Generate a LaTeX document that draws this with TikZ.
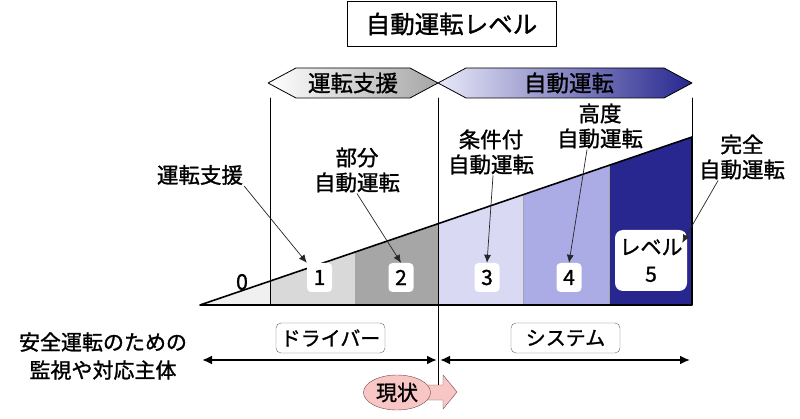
\documentclass[tikz,border=0pt]{standalone}
\usepackage{fontspec}
\setmainfont{Noto Sans CJK JP}[FakeBold=1.2]
\usetikzlibrary{arrows.meta,calc,positioning,shapes.geometric}
\definecolor{lvlGrayA}{HTML}{F0F0F0}
\definecolor{lvlGrayB}{HTML}{D9D9D9}
\definecolor{lvlGrayC}{HTML}{A6A6A6}
\definecolor{lvlBlueA}{HTML}{D9D9F4}
\definecolor{lvlBlueB}{HTML}{ABABE6}
\definecolor{lvlBlueC}{HTML}{27278F}
\definecolor{lvlPink}{HTML}{F9C6C6}
\definecolor{lvlRim}{HTML}{6F4A4A}

\begin{document}
\begin{tikzpicture}[x=1pt,y=-1pt,>=Latex,line cap=round,line join=round]
\useasboundingbox[fill=white] (0,0) rectangle (800,419);
\tikzset{lbl/.style={font=\fontsize{21.5}{25}\selectfont,align=center,inner sep=1pt},numbox/.style={fill=white,rounded corners=4pt,minimum width=25pt,minimum height=29pt,inner sep=0pt,font=\fontsize{21}{24}\selectfont},callout/.style={-{Latex[length=8pt,width=7pt]},draw=black!85,line width=0.7pt},tagbox/.style={draw=black!60,rounded corners=5pt,minimum width=109pt,minimum height=30pt,inner sep=0pt,font=\fontsize{20}{24}\selectfont},respline/.style={{Latex[length=10pt,width=9pt]}-{Latex[length=10pt,width=9pt]},line width=2pt},banner/.style={draw=black,line width=0.8pt}}
\node[draw=black,line width=1pt,minimum width=209pt,minimum height=45pt,font=\fontsize{24.5}{28}\selectfont] (title) at (451.5,24) {自動運転レベル};
\shadedraw[banner,left color=white,right color=lvlGrayC] (268,83) -- (296,68) -- (410,68) -- (438,83) -- (410,98) -- (296,98) -- cycle;
\shadedraw[banner,left color=lvlBlueA!60!white,right color=lvlBlueC] (438,83) -- (466,68) -- (664,68) -- (692,83) -- (664,98) -- (466,98) -- cycle;
\node[font=\fontsize{22.5}{24}\selectfont] (assist) at (353,83) {運転支援};
\node[font=\fontsize{22.5}{24}\selectfont] (auto) at (569,83) {自動運転};
\coordinate (base) at (200,305); \coordinate (apex) at (692,137); \coordinate (corner) at (692,305);
\begin{scope}
\clip (base) -- (apex) -- (corner) -- cycle;
\foreach \xa/\xb/\col in {200/270/lvlGrayA,270/355/lvlGrayB,355/438/lvlGrayC,438/523/lvlBlueA,523/609/lvlBlueB,609/692/lvlBlueC} \fill[\col] (\xa,130) rectangle (\xb,305);
\foreach \xa in {355,523,609} \draw[black!35,line width=0.4pt] (\xa,130) -- (\xa,305);
\end{scope}
\draw[line width=0.6pt] (270,98) -- (270,305); \draw[line width=0.6pt] (438,98) -- (438,385); \draw[line width=0.6pt] (692,98) -- (692,137);
\draw[line width=1.6pt] (base) -- (apex) -- (corner) -- cycle;
\node[lbl] (n0) at (242,282) {0};
\node[numbox] (n1) at (319.5,277.5) {1}; \node[numbox] (n2) at (401,277.5) {2};
\node[numbox] (n3) at (487,277.5) {3}; \node[numbox] (n4) at (569,277.5) {4};
\node[numbox,minimum width=72pt,minimum height=61pt,rounded corners=8pt,align=center,font=\fontsize{21}{27}\selectfont] (n5) at (651,260.5) {レベル\\5};
\node[lbl] (l1) at (200,175) {運転支援};
\node[lbl] (l2) at (357,170) {部分\\自動運転};
\node[lbl] (l3) at (491,152) {条件付\\自動運転};
\node[lbl] (l4) at (600,126) {高度\\自動運転};
\node[lbl] (l5) at (742,157) {完全\\自動運転};
\draw[callout] (l1.south east) -- (n1.north west);
\draw[callout] (l2.south) -- (n2.north);
\draw[callout] ([xshift=2pt]l3.south) -- (n3.north);
\draw[callout] ([xshift=-13pt]l4.south) -- (n4.north);
\draw[callout] ([xshift=-24pt]l5.south) -- ([shift={(-5,13)}]n5.north east);
\node[lbl,font=\fontsize{21}{28}\selectfont] (who) at (103,356) {安全運転のための\\監視や対応主体};
\coordinate (respL) at (202,360); \coordinate (respM) at (438.5,360); \coordinate (respR) at (690,360);
\draw[respline] (respL) -- ([xshift=-1.5pt]respM); \draw[respline] ([xshift=1.5pt]respM) -- (respR);
\node[tagbox] (driver) at (330.5,338) {ドライバー}; \node[tagbox] (system) at (565.5,338) {システム};
\path[draw=lvlRim,fill=lvlPink] (420,385) -- (443,385) -- (443,375) -- (457,392) -- (443,409) -- (443,400) -- (420,400) -- cycle;
\node[ellipse,draw=lvlRim,fill=lvlPink,minimum width=67pt,minimum height=35pt,inner sep=0pt,font=\fontsize{21}{24}\selectfont] (now) at (397,392.5) {現状};
\end{tikzpicture}
\end{document}
